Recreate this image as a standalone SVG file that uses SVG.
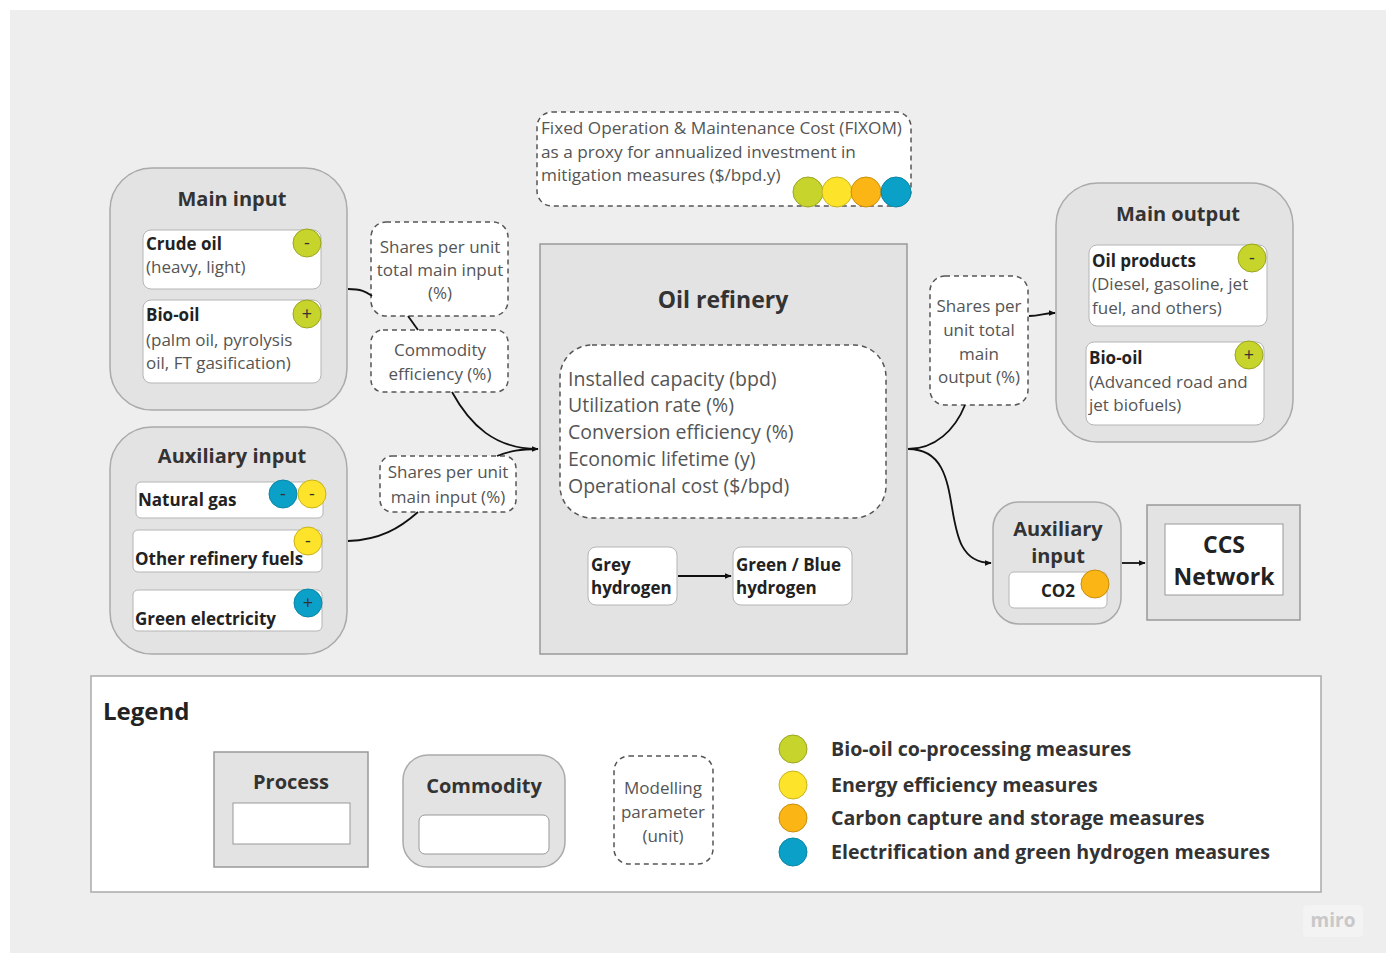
<svg xmlns="http://www.w3.org/2000/svg" width="1389" height="954" viewBox="0 0 1389 954">
<defs>
<marker id="ah" viewBox="0 0 10 10" refX="9" refY="5" markerWidth="7" markerHeight="7" orient="auto" markerUnits="userSpaceOnUse"><path d="M0,1 L10,5 L0,9 z" fill="#111"/></marker>
<style>
text{font-family:"Open Sans","Noto Sans","DejaVu Sans",sans-serif;}
.grp{fill:#e3e3e3;stroke:#aaaaaa;stroke-width:1.5;}
.proc{fill:#e3e3e3;stroke:#999999;stroke-width:1.5;}
.item{fill:#ffffff;stroke:#b5b5b5;stroke-width:1;}
.par{fill:#ffffff;stroke:#555555;stroke-width:1.5;stroke-dasharray:5 4;}
.ttl{font-weight:bold;font-size:20px;fill:#333;text-anchor:middle;}
.b{font-weight:bold;font-size:17px;fill:#222;}
.r{font-size:17px;fill:#555;}
.pt{font-size:17px;fill:#555;text-anchor:middle;}
.fx{font-size:17.2px;fill:#555;}
.big{font-size:19.5px;fill:#555;}
.sg{font-size:18px;fill:#333;text-anchor:middle;}
.cg{fill:#c6d42c;stroke:#9aa520;stroke-width:1;}
.cy{fill:#fde42a;stroke:#c9b21b;stroke-width:1;}
.co{fill:#fbb515;stroke:#c98e0c;stroke-width:1;}
.cb{fill:#0aa0c7;stroke:#0a86a6;stroke-width:1;}
.con{fill:none;stroke:#111;stroke-width:1.8;}
.lg{font-weight:bold;font-size:19.6px;fill:#333;}
</style>
</defs>
<rect x="0" y="0" width="1389" height="954" fill="#ffffff"/>
<rect x="10" y="10" width="1376" height="943" fill="#eeeeee"/>

<g id="main-input">
<rect class="grp" x="110" y="168" width="237" height="242" rx="42"/>
<text class="ttl" x="232" y="206">Main input</text>
</g>
<g id="crude-oil">
<rect class="item" x="143" y="230" width="178" height="59" rx="8"/>
<text class="b" x="146" y="250">Crude oil</text>
<text class="r" x="146" y="273">(heavy, light)</text>
<circle class="cg" cx="307" cy="243" r="14"/><text class="sg" x="307" y="249">-</text>
</g>
<g id="bio-oil-in">
<rect class="item" x="143" y="300" width="178" height="83" rx="8"/>
<text class="b" x="146" y="321">Bio-oil</text>
<text class="r" x="146" y="346">(palm oil, pyrolysis</text>
<text class="r" x="146" y="369">oil, FT gasification)</text>
<circle class="cg" cx="307" cy="314" r="14"/><text class="sg" x="307" y="320">+</text>
</g>

<g id="aux-input">
<rect class="grp" x="110" y="427" width="237" height="227" rx="42"/>
<text class="ttl" x="232" y="463">Auxiliary input</text>
</g>
<g id="natural-gas">
<rect class="item" x="136" y="482" width="187" height="36" rx="5"/>
<text class="b" x="138" y="506">Natural gas</text>
<circle class="cb" cx="283" cy="494" r="14"/><text class="sg" x="283" y="500">-</text>
<circle class="cy" cx="312" cy="494" r="14"/><text class="sg" x="312" y="500">-</text>
</g>
<g id="other-fuels">
<rect class="item" x="133" y="530" width="189" height="42" rx="5"/>
<text class="b" x="135" y="565">Other refinery fuels</text>
<circle class="cy" cx="308" cy="541" r="14"/><text class="sg" x="308" y="547">-</text>
</g>
<g id="green-electricity">
<rect class="item" x="133" y="590" width="189" height="41" rx="5"/>
<text class="b" x="135" y="625">Green electricity</text>
<circle class="cb" cx="308" cy="603" r="14"/><text class="sg" x="308" y="609">+</text>
</g>

<g id="param-shares-total-input">
<rect class="par" x="371" y="222" width="137" height="94" rx="15"/>
<text class="pt" x="440" y="253">Shares per unit</text>
<text class="pt" x="440" y="276">total main input</text>
<text class="pt" x="440" y="299">(%)</text>
</g>
<g id="param-commodity-eff">
<rect class="par" x="371" y="330" width="137" height="62" rx="12"/>
<text class="pt" x="440" y="356">Commodity</text>
<text class="pt" x="440" y="380">efficiency (%)</text>
</g>
<g id="param-shares-main-input">
<rect class="par" x="380" y="456" width="136" height="56" rx="12"/>
<text class="pt" x="448" y="478">Shares per unit</text>
<text class="pt" x="448" y="503">main input (%)</text>
</g>
<g id="param-fixom">
<rect class="par" x="537" y="112" width="374" height="94" rx="15"/>
<text class="fx" x="541" y="134">Fixed Operation &amp; Maintenance Cost (FIXOM)</text>
<text class="fx" x="541" y="158">as a proxy for annualized investment in</text>
<text class="fx" x="541" y="181">mitigation measures ($/bpd.y)</text>
<circle class="cg" cx="808" cy="192" r="15"/>
<circle class="cy" cx="837" cy="192" r="15"/>
<circle class="co" cx="866" cy="192" r="15"/>
<circle class="cb" cx="896" cy="192" r="15"/>
</g>

<g id="oil-refinery">
<rect class="proc" x="540" y="244" width="367" height="410"/>
<text class="ttl" x="723" y="308" style="font-size:23px">Oil refinery</text>
<rect class="par" x="560" y="345" width="326" height="173" rx="32"/>
<text class="big" x="568" y="386">Installed capacity (bpd)</text>
<text class="big" x="568" y="412">Utilization rate (%)</text>
<text class="big" x="568" y="439">Conversion efficiency (%)</text>
<text class="big" x="568" y="466">Economic lifetime (y)</text>
<text class="big" x="568" y="493">Operational cost ($/bpd)</text>
</g>
<g id="grey-hydrogen">
<rect class="item" x="588" y="547" width="89" height="58" rx="8"/>
<text class="b" x="591" y="571">Grey</text>
<text class="b" x="591" y="594">hydrogen</text>
</g>
<g id="green-blue-hydrogen">
<rect class="item" x="733" y="547" width="119" height="58" rx="8"/>
<text class="b" x="736" y="571">Green / Blue</text>
<text class="b" x="736" y="594">hydrogen</text>
</g>

<g id="param-shares-output">
<rect class="par" x="930" y="276" width="98" height="129" rx="15"/>
<text class="pt" x="979" y="312">Shares per</text>
<text class="pt" x="979" y="336">unit total</text>
<text class="pt" x="979" y="360">main</text>
<text class="pt" x="979" y="383">output (%)</text>
</g>

<g id="main-output">
<rect class="grp" x="1056" y="183" width="237" height="259" rx="42"/>
<text class="ttl" x="1178" y="221">Main output</text>
</g>
<g id="oil-products">
<rect class="item" x="1089" y="245" width="178" height="81" rx="8"/>
<text class="b" x="1092" y="267">Oil products</text>
<text class="r" x="1092" y="290">(Diesel, gasoline, jet</text>
<text class="r" x="1092" y="314">fuel, and others)</text>
<circle class="cg" cx="1252" cy="258" r="14"/><text class="sg" x="1252" y="264">-</text>
</g>
<g id="bio-oil-out">
<rect class="item" x="1086" y="342" width="178" height="83" rx="8"/>
<text class="b" x="1089" y="364">Bio-oil</text>
<text class="r" x="1089" y="388">(Advanced road and</text>
<text class="r" x="1089" y="411">jet biofuels)</text>
<circle class="cg" cx="1249" cy="355" r="14"/><text class="sg" x="1249" y="361">+</text>
</g>

<g id="aux-output">
<rect class="grp" x="993" y="502" width="128" height="122" rx="26"/>
<text class="ttl" x="1058" y="536">Auxiliary</text>
<text class="ttl" x="1058" y="563">input</text>
</g>
<g id="co2">
<rect class="item" x="1009" y="572" width="98" height="36" rx="5"/>
<text class="b" x="1058" y="597" text-anchor="middle">CO2</text>
<circle class="co" cx="1095" cy="584" r="14"/>
</g>

<g id="ccs-network">
<rect class="proc" x="1147" y="505" width="153" height="115"/>
<rect class="item" x="1165" y="524" width="118" height="71" style="stroke:#999"/>
<text class="ttl" x="1224" y="553" style="font-size:23px;fill:#222">CCS</text>
<text class="ttl" x="1224" y="585" style="font-size:23px;fill:#222">Network</text>
</g>

<g id="legend">
<rect x="91" y="676" width="1230" height="216" fill="#ffffff" stroke="#aaaaaa" stroke-width="1.5"/>
<text x="103" y="720" style="font-weight:bold;font-size:24px;fill:#222">Legend</text>
<g id="legend-process">
<rect class="proc" x="214" y="752" width="154" height="115"/>
<text class="ttl" x="291" y="789">Process</text>
<rect class="item" x="233" y="803" width="117" height="41" style="stroke:#999"/>
</g>
<g id="legend-commodity">
<rect class="grp" x="403" y="755" width="162" height="112" rx="25"/>
<text class="ttl" x="484" y="793">Commodity</text>
<rect class="item" x="419" y="815" width="130" height="39" rx="6" style="stroke:#999"/>
</g>
<g id="legend-parameter">
<rect class="par" x="614" y="756" width="99" height="108" rx="15"/>
<text class="pt" x="663" y="794">Modelling</text>
<text class="pt" x="663" y="818">parameter</text>
<text class="pt" x="663" y="842">(unit)</text>
</g>
<g id="legend-measures">
<ellipse class="cg" cx="793" cy="749" rx="14" ry="14"/>
<text class="lg" x="831" y="756">Bio-oil co-processing measures</text>
<ellipse class="cy" cx="793" cy="785" rx="14" ry="14"/>
<text class="lg" x="831" y="792">Energy efficiency measures</text>
<ellipse class="co" cx="793" cy="818" rx="14" ry="14"/>
<text class="lg" x="831" y="825">Carbon capture and storage measures</text>
<ellipse class="cb" cx="793" cy="852" rx="14" ry="14"/>
<text class="lg" x="831" y="859">Electrification and green hydrogen measures</text>
</g>
</g>

<g id="connectors">
<path class="con" d="M348,289 C362,289 366,292 372,296"/>
<path class="con" d="M408,316 L418,330"/>
<path class="con" d="M452,392 C470,425 495,449 538,449" marker-end="url(#ah)"/>
<path class="con" d="M497,456 C510,451 520,449 538,449"/>
<path class="con" d="M348,541 C380,540 400,528 418,512"/>
<path class="con" d="M908,449 C935,449 955,430 965,405"/>
<path class="con" d="M1029,316 C1040,316 1045,313 1055,313" marker-end="url(#ah)"/>
<path class="con" d="M908,449 C975,449 930,563 991,563" marker-end="url(#ah)"/>
<path class="con" d="M1122,563 L1145,563" marker-end="url(#ah)"/>
<path class="con" d="M678,576 L731,576" marker-end="url(#ah)"/>
</g>

<g id="watermark">
<rect x="1303" y="905" width="60" height="32" rx="4" fill="#f3f3f3"/>
<text x="1333" y="927" text-anchor="middle" style="font-size:19px;font-weight:bold;fill:#c8c8c8">miro</text>
</g>
</svg>
